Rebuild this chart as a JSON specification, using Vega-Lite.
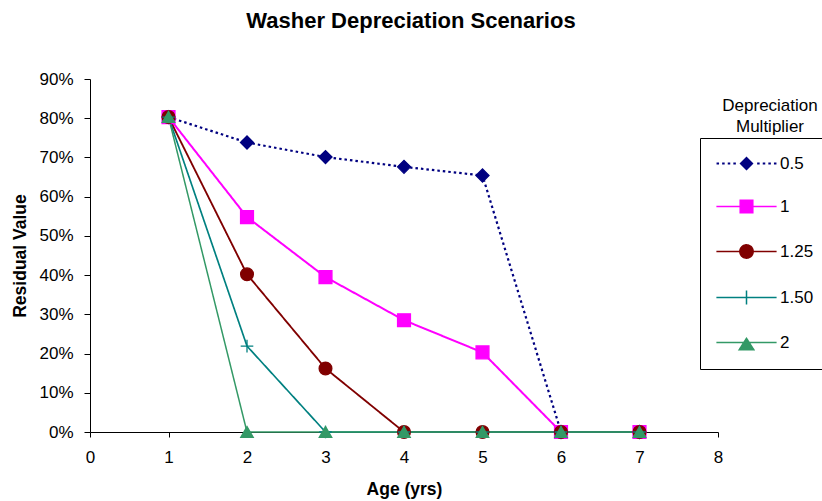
{
  "$schema": "https://vega.github.io/schema/vega-lite/v6.json",
  "width": 628,
  "height": 353,
  "autosize": {"type": "none"},
  "padding": {"left": 90, "top": 79, "right": 104, "bottom": 69},
  "background": "white",
  "title": {
    "text": "Washer Depreciation Scenarios",
    "fontSize": 22,
    "fontWeight": "bold",
    "font": "Liberation Sans",
    "color": "black",
    "anchor": "middle",
    "baseline": "alphabetic",
    "offset": 20,
    "dx": 7
  },
  "data": {
    "values": [
      {"series": "0.5", "age": 1, "value": 0.803},
      {"series": "0.5", "age": 2, "value": 0.738},
      {"series": "0.5", "age": 3, "value": 0.701},
      {"series": "0.5", "age": 4, "value": 0.676},
      {"series": "0.5", "age": 5, "value": 0.654},
      {"series": "0.5", "age": 6, "value": 0.0},
      {"series": "0.5", "age": 7, "value": 0.0},
      {"series": "1", "age": 1, "value": 0.803},
      {"series": "1", "age": 2, "value": 0.548},
      {"series": "1", "age": 3, "value": 0.395},
      {"series": "1", "age": 4, "value": 0.285},
      {"series": "1", "age": 5, "value": 0.203},
      {"series": "1", "age": 6, "value": 0.0},
      {"series": "1", "age": 7, "value": 0.0},
      {"series": "1.25", "age": 1, "value": 0.803},
      {"series": "1.25", "age": 2, "value": 0.402},
      {"series": "1.25", "age": 3, "value": 0.162},
      {"series": "1.25", "age": 4, "value": 0.0},
      {"series": "1.25", "age": 5, "value": 0.0},
      {"series": "1.25", "age": 6, "value": 0.0},
      {"series": "1.25", "age": 7, "value": 0.0},
      {"series": "1.50", "age": 1, "value": 0.803},
      {"series": "1.50", "age": 2, "value": 0.219},
      {"series": "1.50", "age": 3, "value": 0.0},
      {"series": "1.50", "age": 4, "value": 0.0},
      {"series": "1.50", "age": 5, "value": 0.0},
      {"series": "1.50", "age": 6, "value": 0.0},
      {"series": "1.50", "age": 7, "value": 0.0},
      {"series": "2", "age": 1, "value": 0.803},
      {"series": "2", "age": 2, "value": 0.0},
      {"series": "2", "age": 3, "value": 0.0},
      {"series": "2", "age": 4, "value": 0.0},
      {"series": "2", "age": 5, "value": 0.0},
      {"series": "2", "age": 6, "value": 0.0},
      {"series": "2", "age": 7, "value": 0.0}
    ]
  },
  "encoding": {
    "x": {
      "field": "age",
      "type": "quantitative",
      "scale": {"domain": [0, 8], "nice": false, "zero": false},
      "axis": {
        "values": [0, 1, 2, 3, 4, 5, 6, 7, 8],
        "format": "d",
        "title": "Age (yrs)",
        "grid": false,
        "tickSize": 5,
        "labelPadding": 12,
        "labelFontSize": 17,
        "labelFont": "Liberation Sans",
        "labelColor": "black",
        "labelFlush": false,
        "domainColor": "black",
        "tickColor": "black",
        "titleFontSize": 17.5,
        "titleFontWeight": "bold",
        "titleFont": "Liberation Sans",
        "titleColor": "black",
        "titlePadding": 15
      }
    },
    "y": {
      "field": "value",
      "type": "quantitative",
      "scale": {"domain": [0, 0.9], "nice": false},
      "axis": {
        "values": [0, 0.1, 0.2, 0.3, 0.4, 0.5, 0.6, 0.7, 0.8, 0.9],
        "format": ".0%",
        "title": "Residual Value",
        "grid": false,
        "tickSize": 6,
        "labelPadding": 11,
        "labelFontSize": 17,
        "labelFont": "Liberation Sans",
        "labelColor": "black",
        "labelFlush": false,
        "domainColor": "black",
        "tickColor": "black",
        "titleFontSize": 17.5,
        "titleFontWeight": "bold",
        "titleFont": "Liberation Sans",
        "titleColor": "black",
        "titlePadding": 9
      }
    },
    "color": {
      "field": "series",
      "type": "nominal",
      "scale": {
        "domain": ["0.5", "1", "1.25", "1.50", "2"],
        "range": ["#000080", "#FF00FF", "#800000", "#008080", "#339966"]
      },
      "legend": {
        "orient": "none",
        "legendX": 610,
        "legendY": 59,
        "direction": "vertical",
        "title": ["Depreciation", "Multiplier"],
        "titleFontSize": 17,
        "titleFontWeight": "normal",
        "titleFont": "Liberation Sans",
        "titleColor": "black",
        "titleAlign": "center",
        "titleAnchor": "middle",
        "titleLineHeight": 21,
        "titlePadding": -37,
        "padding": 16,
        "strokeColor": "black",
        "fillColor": "white",
        "labelFontSize": 17,
        "labelFont": "Liberation Sans",
        "labelColor": "black",
        "symbolSize": 196,
        "symbolStrokeWidth": 1.5,
        "symbolOffset": 22,
        "labelOffset": 25,
        "rowPadding": 25,
        "encode": {
          "symbols": {
            "update": {
              "shape": {"signal": "{'0.5': 'M0,-1L1,0L0,1L-1,0ZM-4.28,-0.16h0.36v0.32h-0.36ZM-3.48,-0.16h0.36v0.32h-0.36ZM-2.68,-0.16h0.36v0.32h-0.36ZM-1.88,-0.16h0.36v0.32h-0.36ZM1.52,-0.16h0.36v0.32h-0.36ZM2.32,-0.16h0.36v0.32h-0.36ZM3.12,-0.16h0.36v0.32h-0.36ZM3.92,-0.16h0.36v0.32h-0.36Z', '1': 'M-4.3,0H4.3M-0.9,-0.9H0.9V0.9H-0.9Z', '1.25': 'M-4.3,0H4.3M-0.95,0A0.95,0.95,0,1,1,0.95,0A0.95,0.95,0,1,1,-0.95,0Z', '1.50': 'M-4.3,0H4.3M0,-1V1', '2': 'M-4.3,0H4.3M0,-0.6L1.05,1.05L-1.05,1.05Z'}[datum.value]"},
              "fill": {"signal": "{'0.5': '#000080', '1': '#FF00FF', '1.25': '#800000', '1.50': 'transparent', '2': '#339966'}[datum.value]"},
              "stroke": {"signal": "{'0.5': '#000080', '1': '#FF00FF', '1.25': '#800000', '1.50': '#008080', '2': '#339966'}[datum.value]"},
              "strokeDash": {"value": [1, 0]},
              "strokeWidth": {"signal": "datum.value === '0.5' ? 0 : 1.5"},
              "size": {"value": 196},
              "opacity": {"value": 1},
              "fillOpacity": {"value": 1},
              "strokeOpacity": {"value": 1}
            }
          },
          "title": {"update": {"dy": {"value": -56}, "dx": {"value": 5}}}
        }
      }
    }
  },
  "layer": [
    {
      "mark": {"type": "line", "clip": false},
      "encoding": {
        "strokeDash": {
          "field": "series",
          "type": "nominal",
          "scale": {
            "range": [[2.5, 3], [1, 0], [1, 0], [1, 0], [1, 0]]
          },
          "legend": null
        },
        "strokeWidth": {
          "field": "series",
          "type": "ordinal",
          "scale": {
            "range": [2.2, 1.5, 1.5, 1.5, 1.5]
          },
          "legend": null
        }
      }
    },
    {
      "mark": {"type": "point", "filled": true, "opacity": 1, "strokeWidth": 1.3, "clip": false},
      "encoding": {
        "shape": {
          "field": "series",
          "type": "nominal",
          "scale": {
            "range": ["diamond", "square", "circle", "M-1,0H1M0,-1V1", "triangle-up"]
          },
          "legend": null
        },
        "stroke": {
          "field": "series",
          "type": "nominal",
          "scale": {
            "range": ["#000080", "#FF00FF", "#800000", "#008080", "#339966"]
          },
          "legend": null
        },
        "size": {
          "field": "series",
          "type": "ordinal",
          "scale": {
            "range": [169, 156, 119, 196, 182]
          },
          "legend": null
        }
      }
    }
  ],
  "config": {
    "view": {"stroke": null},
    "font": "Liberation Sans"
  }
}
